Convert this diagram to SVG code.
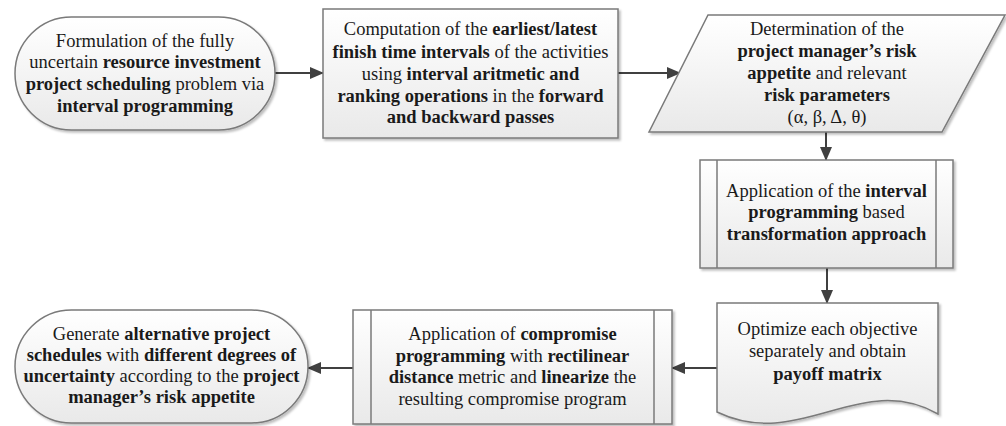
<svg xmlns="http://www.w3.org/2000/svg" width="1006" height="426" viewBox="0 0 1006 426">
<defs>
<linearGradient id="g" x1="0" y1="0" x2="0" y2="1">
<stop offset="0" stop-color="#ffffff"/>
<stop offset="1" stop-color="#e9e9e9"/>
</linearGradient>
<filter id="sh" x="-5%" y="-5%" width="110%" height="115%">
<feDropShadow dx="2" dy="2" stdDeviation="1.2" flood-color="#000" flood-opacity="0.25"/>
</filter>
<marker id="ah" markerUnits="userSpaceOnUse" markerWidth="14" markerHeight="12" refX="13" refY="6" orient="auto">
<path d="M0,0 L14,6 L0,12 Z" fill="#404040"/>
</marker>
</defs>
<style>
.s{fill:url(#g);stroke:#7a7a7a;stroke-width:1.5;filter:url(#sh)}
.d{fill:none;stroke:#7a7a7a;stroke-width:1.5}
.c{fill:none;stroke:#404040;stroke-width:2;marker-end:url(#ah)}
text{font-family:"Liberation Serif","Times New Roman",serif;font-size:18.5px;fill:#1a1a1a;text-anchor:middle}
.b{font-weight:bold}
</style>
<g id="connectors">
<line class="c" x1="275" y1="73" x2="323" y2="73"/>
<line class="c" x1="618" y1="73" x2="680" y2="73"/>
<line class="c" x1="826" y1="132" x2="826" y2="160"/>
<line class="c" x1="827" y1="268" x2="827" y2="303"/>
<line class="c" x1="717" y1="368" x2="672" y2="368"/>
<line class="c" x1="353" y1="368" x2="308" y2="368"/>
</g>
<g id="n1">
<rect class="s" x="15" y="17" width="260" height="113" rx="56.5" ry="56.5"/>
<text x="145" y="47">Formulation of the fully</text>
<text x="145" y="68">uncertain <tspan class="b">resource investment</tspan></text>
<text x="145" y="90"><tspan class="b">project scheduling</tspan> problem via</text>
<text x="145" y="112"><tspan class="b">interval programming</tspan></text>
</g>
<g id="n2">
<rect class="s" x="323" y="9" width="295" height="129"/>
<text x="470.5" y="35">Computation of the <tspan class="b">earliest/latest</tspan></text>
<text x="470.5" y="58"><tspan class="b">finish time intervals</tspan> of the activities</text>
<text x="470.5" y="80">using <tspan class="b">interval aritmetic and</tspan></text>
<text x="470.5" y="102"><tspan class="b">ranking operations</tspan> in the <tspan class="b">forward</tspan></text>
<text x="470.5" y="123"><tspan class="b">and backward passes</tspan></text>
</g>
<g id="n3">
<polygon class="s" points="708,15 1005,15 942,132 649,132"/>
<text x="827" y="35">Determination of the</text>
<text x="827" y="57"><tspan class="b">project manager’s risk</tspan></text>
<text x="827" y="79"><tspan class="b">appetite</tspan> and relevant</text>
<text x="827" y="101"><tspan class="b">risk parameters</tspan></text>
<text x="827" y="123">(α, β, Δ, θ)</text>
</g>
<g id="n4">
<rect class="s" x="700" y="160" width="253" height="108"/>
<line class="d" x1="717" y1="160" x2="717" y2="268"/>
<line class="d" x1="936" y1="160" x2="936" y2="268"/>
<text x="826.5" y="197">Application of the <tspan class="b">interval</tspan></text>
<text x="826.5" y="218"><tspan class="b">programming</tspan> based</text>
<text x="826.5" y="240"><tspan class="b">transformation approach</tspan></text>
</g>
<g id="n5">
<path class="s" d="M717,303 L938,303 L938,414 C860,370 800,452 717,412 Z"/>
<text x="827.5" y="335">Optimize each objective</text>
<text x="827.5" y="357">separately and obtain</text>
<text x="827.5" y="380"><tspan class="b">payoff matrix</tspan></text>
</g>
<g id="n6">
<rect class="s" x="353" y="310" width="319" height="114"/>
<line class="d" x1="371" y1="310" x2="371" y2="424"/>
<line class="d" x1="654" y1="310" x2="654" y2="424"/>
<text x="512.5" y="340">Application of <tspan class="b">compromise</tspan></text>
<text x="512.5" y="362"><tspan class="b">programming</tspan> with <tspan class="b">rectilinear</tspan></text>
<text x="512.5" y="383"><tspan class="b">distance</tspan> metric and <tspan class="b">linearize</tspan> the</text>
<text x="512.5" y="405">resulting compromise program</text>
</g>
<g id="n7">
<rect class="s" x="15" y="310" width="293" height="113" rx="56.5" ry="56.5"/>
<text x="161.5" y="340">Generate <tspan class="b">alternative project</tspan></text>
<text x="161.5" y="361"><tspan class="b">schedules</tspan> with <tspan class="b">different degrees of</tspan></text>
<text x="161.5" y="382"><tspan class="b">uncertainty</tspan> according to the <tspan class="b">project</tspan></text>
<text x="161.5" y="403"><tspan class="b">manager’s risk appetite</tspan></text>
</g>
</svg>
